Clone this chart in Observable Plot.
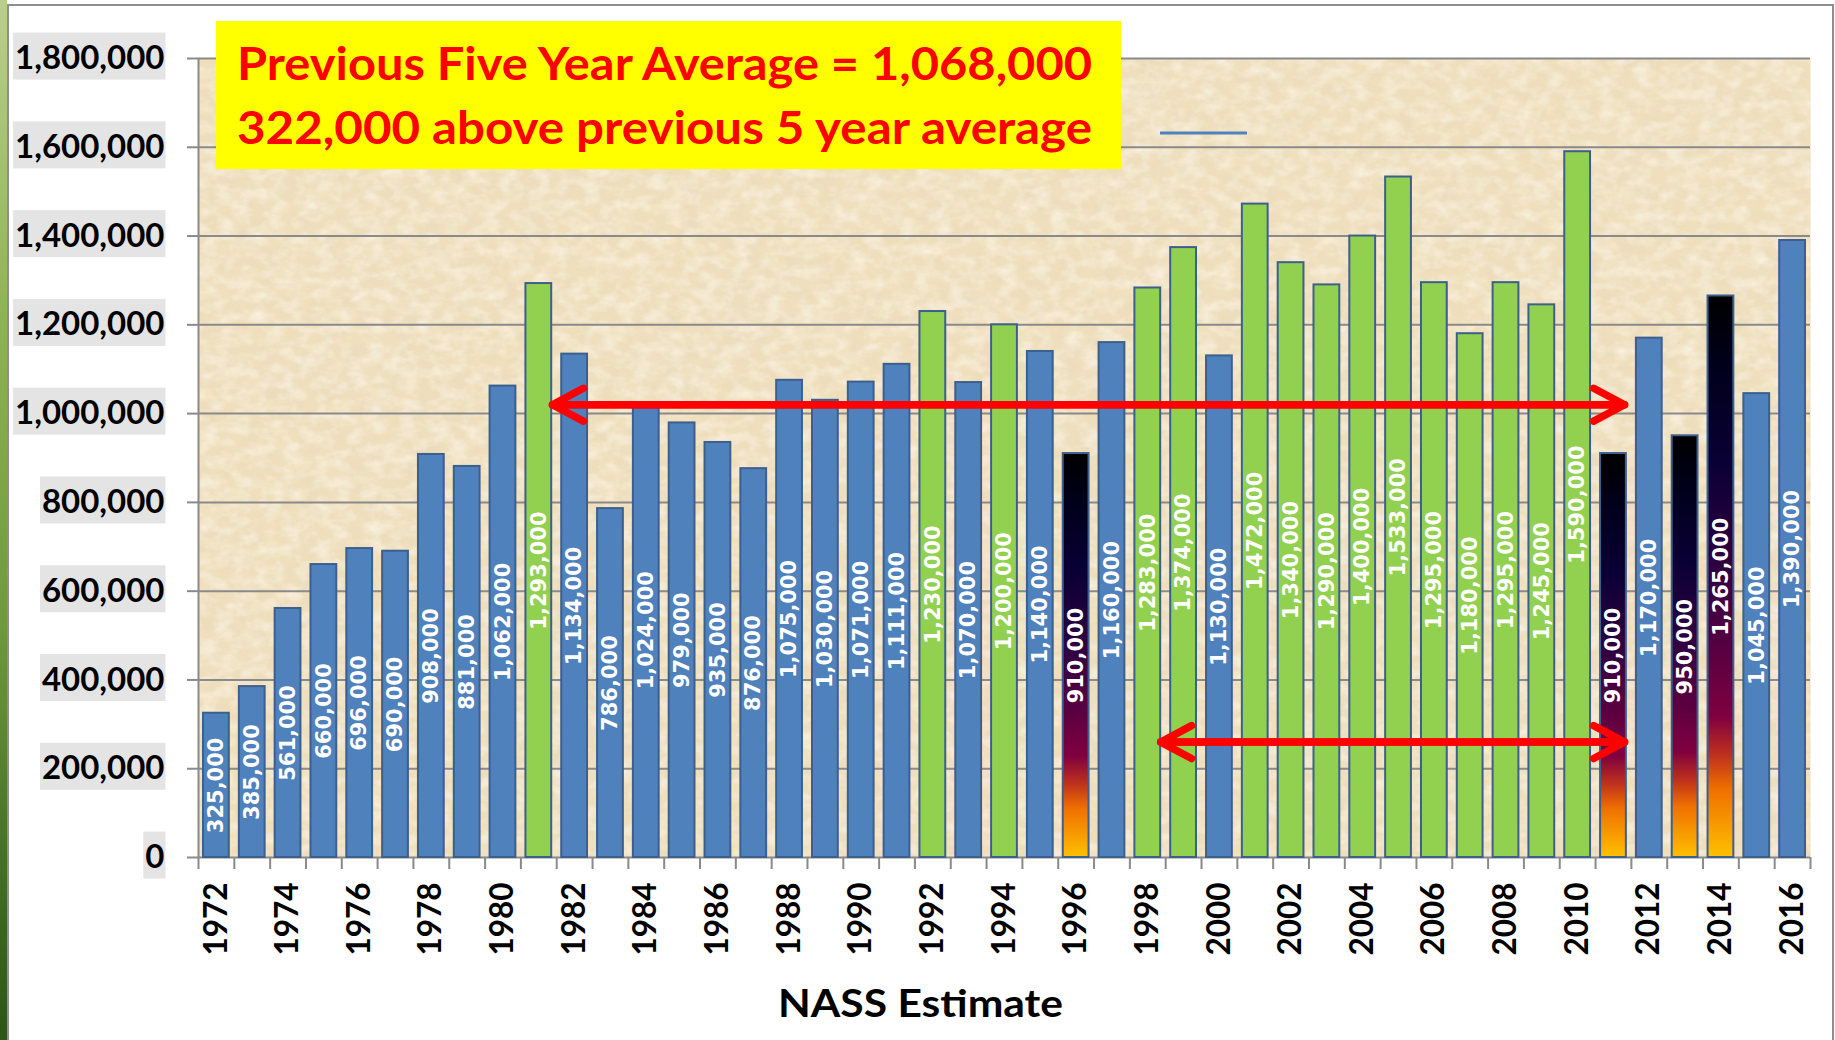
<!DOCTYPE html>
<html>
<head>
<meta charset="utf-8">
<script src="https://cdn.jsdelivr.net/npm/d3@7"></script>
<script src="https://cdn.jsdelivr.net/npm/@observablehq/plot@0.6"></script>
<style>
  html, body { margin: 0; padding: 0; background: #ffffff; }
  #wrap { position: relative; width: 1835px; height: 1040px; overflow: hidden; background: #ffffff; }
  #strip { position: absolute; left: 0; top: 0; width: 7px; height: 1040px;
           background: linear-gradient(to bottom, #b9cf8a 0%, #8fb452 30%, #6f9a3a 60%, #3f6d22 85%, #2c5518 100%); }
  #border { position: absolute; left: 7px; top: 4px; width: 1827px; height: 1100px;
            border: 2px solid #8e8e8e; box-sizing: border-box; }
  #defs { position: absolute; width: 0; height: 0; }
  #wrap > svg.plot { position: absolute; left: 0; top: 0; }
</style>
</head>
<body>
<div id="wrap">
  <div id="strip"></div>
  <div id="border"></div>
  <svg id="defs" width="0" height="0">
    <defs>
      <linearGradient id="fire" x1="0" y1="0" x2="0" y2="1">
        <stop offset="0" stop-color="#000000"/>
        <stop offset="0.12" stop-color="#00001a"/>
        <stop offset="0.30" stop-color="#0a0035"/>
        <stop offset="0.50" stop-color="#330042"/>
        <stop offset="0.65" stop-color="#5e0040"/>
        <stop offset="0.75" stop-color="#800040"/>
        <stop offset="0.82" stop-color="#c0321c"/>
        <stop offset="0.88" stop-color="#f07000"/>
        <stop offset="1" stop-color="#ffc000"/>
      </linearGradient>
      <filter id="paper" x="0" y="0" width="1" height="1">
        <feTurbulence type="fractalNoise" baseFrequency="0.05 0.07" numOctaves="4" seed="4" result="n1"/>
        <feColorMatrix in="n1" type="matrix" values="0 0 0 0 0.82  0 0 0 0 0.70  0 0 0 0 0.50  0 0 0 1.3 -0.52" result="dark"/>
        <feTurbulence type="fractalNoise" baseFrequency="0.06 0.09" numOctaves="3" seed="11" result="n2"/>
        <feColorMatrix in="n2" type="matrix" values="0 0 0 0 0.98  0 0 0 0 0.93  0 0 0 0 0.83  0 0 0 1.3 -0.5" result="light"/>
        <feTurbulence type="fractalNoise" baseFrequency="0.006 0.01" numOctaves="2" seed="21" result="n3"/>
        <feColorMatrix in="n3" type="matrix" values="0 0 0 0 0.85  0 0 0 0 0.74  0 0 0 0 0.55  0 0 0 1.0 -0.42" result="broad"/>
        <feMerge result="m"><feMergeNode in="broad"/><feMergeNode in="dark"/><feMergeNode in="light"/></feMerge>
        <feComposite in="m" in2="SourceGraphic" operator="in"/>
      </filter>
    </defs>
  </svg>
</div>
<script>
// ---------------- data ----------------
const years = [1972, 1973, 1974, 1975, 1976, 1977, 1978, 1979, 1980, 1981,
               1982, 1983, 1984, 1985, 1986, 1987, 1988, 1989, 1990, 1991,
               1992, 1993, 1994, 1995, 1996, 1997, 1998, 1999, 2000, 2001,
               2002, 2003, 2004, 2005, 2006, 2007, 2008, 2009, 2010, 2011,
               2012, 2013, 2014, 2015, 2016];
const values = [325000, 385000, 561000, 660000, 696000, 690000, 908000, 881000, 1062000, 1293000,
                1134000, 786000, 1024000, 979000, 935000, 876000, 1075000, 1030000, 1071000, 1111000,
                1230000, 1070000, 1200000, 1140000, 910000, 1160000, 1283000, 1374000, 1130000, 1472000,
                1340000, 1290000, 1400000, 1533000, 1295000, 1180000, 1295000, 1245000, 1590000, 910000,
                1170000, 950000, 1265000, 1045000, 1390000];
// b = blue, g = green, f = gradient ("fire")
const groups = ["b","b","b","b","b","b","b","b","b","g",
                "b","b","b","b","b","b","b","b","b","b",
                "g","b","g","b","f","b","g","g","b","g",
                "g","g","g","g","g","g","g","g","g","f",
                "b","f","f","b","b"];
const groupFill = {b: "#4f81bd", g: "#92d050", f: "url(#fire)"};
const yTicks = [0, 200000, 400000, 600000, 800000, 1000000, 1200000, 1400000, 1600000, 1800000];
const xLabelYears = [1972, 1974, 1976, 1978, 1980, 1982, 1984, 1986, 1988, 1990, 1992, 1994,
                     1996, 1998, 2000, 2002, 2004, 2006, 2008, 2010, 2012, 2014, 2016];
// red double-headed arrows (annotation)
const arrowY    = [1020000, 260000];
const arrowFrom = [1981.38, 1998.36];
const arrowTo   = [2011.31, 2011.31];
const bannerLines = ["Previous Five Year Average = 1,068,000", "322,000 above previous 5 year average"];
const xTitle = "NASS Estimate";

// ---------------- build ----------------
const data = years.map((year, i) => ({year, value: values[i], group: groups[i]}));
const arrows = arrowY.map((y, i) => ({y, from: arrowFrom[i], to: arrowTo[i]}));
const bounds = years.map(y => y - 0.5).concat([years[years.length - 1] + 0.5]);
const fmt = d3.format(",");
const half = 0.36;

const barMarks = Object.keys(groupFill).map(g =>
  Plot.rectY(data.filter(d => d.group === g), {
    x1: d => d.year - half, x2: d => d.year + half, y: "value",
    fill: groupFill[g], stroke: "#3c5f8e", strokeWidth: 2
  })
);

const chart = Plot.plot({
  width: 1835, height: 1040,
  marginLeft: 198, marginRight: 25, marginTop: 58, marginBottom: 183,
  style: {fontFamily: "Lato, 'Open Sans', sans-serif", background: "transparent", overflow: "visible"},
  x: {type: "linear", domain: [bounds[0], bounds[bounds.length - 1]]},
  y: {domain: [0, 1800000]},
  marks: [
    Plot.frame({fill: "#efdfbc", stroke: null}),
    Plot.frame({fill: "black", stroke: null}),
    Plot.gridY(yTicks, {stroke: "#8a8a8a", strokeOpacity: 1, strokeWidth: 2}),
    Plot.ruleX([bounds[0]], {stroke: "#8a8a8a", strokeWidth: 2}),
    ...barMarks,
    Plot.text(data, {
      x: "year", y: d => d.value / 2, text: d => fmt(d.value), rotate: -90,
      fill: "white", fontSize: 21, fontWeight: "bold", fontFamily: "DejaVu Sans",
      textAnchor: "middle", lineAnchor: "middle"
    }),
    Plot.arrow(arrows, {x1: "from", x2: "to", y1: "y", y2: "y", stroke: "#ff0000", strokeWidth: 7.5, headAngle: 56, headLength: 7}),
    Plot.arrow(arrows, {x1: "to", x2: "from", y1: "y", y2: "y", stroke: "#ff0000", strokeWidth: 7.5, headAngle: 56, headLength: 7}),
    Plot.axisY({ticks: yTicks, tickSize: 11, tickPadding: 23, tickFormat: fmt,
                fontSize: 33, fontWeight: "bold", fill: "black", stroke: "#8a8a8a", strokeWidth: 2, label: null}),
    Plot.axisX({ticks: bounds, tickSize: 12, tickFormat: () => "", stroke: "#8a8a8a", strokeWidth: 2, label: null}),
    Plot.axisX({ticks: xLabelYears, tickSize: 0, tickPadding: 25, tickRotate: -90, tickFormat: d => String(d),
                fontSize: 31.5, fontWeight: "bold", fill: "black", label: null})
  ]
});

document.getElementById("wrap").appendChild(chart);
const svg = d3.select(chart);

// paper texture on the second frame
const frames = svg.selectAll('[aria-label="frame"]').nodes();
if (frames.length > 1) d3.select(frames[1]).attr("filter", "url(#paper)");

// light grey patches behind y tick labels
const svgRect = chart.getBoundingClientRect();
const yLabelGroup = svg.select('g[aria-label="y-axis tick label"]');
if (!yLabelGroup.empty()) {
  const patches = svg.insert("g", () => yLabelGroup.node());
  yLabelGroup.selectAll("text").each(function () {
    const r = this.getBoundingClientRect();
    const cy = r.top - svgRect.top + r.height / 2;
    patches.append("rect")
      .attr("x", r.left - svgRect.left - 2).attr("width", r.width + 3)
      .attr("y", cy - 23.5).attr("height", 47)
      .attr("fill", "#e4e4e4");
  });
}

// banner
const banner = svg.append("g").attr("text-anchor", "start");
banner.append("rect").attr("x", 216).attr("y", 21).attr("width", 905).attr("height", 148).attr("fill", "#ffff00");
bannerLines.forEach((t, i) => {
  banner.append("text").text(t)
    .attr("x", 237).attr("y", i === 0 ? 80 : 144)
    .attr("text-anchor", "start")
    .attr("font-family", "Lato, 'Open Sans', sans-serif").attr("font-weight", "bold").attr("font-size", 46)
    .attr("fill", "#ff0000")
    .attr("textLength", 855).attr("lengthAdjust", "spacingAndGlyphs");
});

// stray legend key line
svg.append("line").attr("x1", 1160).attr("x2", 1247).attr("y1", 133).attr("y2", 133)
  .attr("stroke", "#4f81bd").attr("stroke-width", 3);

// x title
svg.append("text").text(xTitle)
  .attr("x", 778).attr("y", 1017)
  .attr("text-anchor", "start")
  .attr("font-family", "Lato, 'Open Sans', sans-serif").attr("font-weight", "bold").attr("font-size", 38)
  .attr("fill", "black")
  .attr("textLength", 285).attr("lengthAdjust", "spacingAndGlyphs");
</script>
</body>
</html>
